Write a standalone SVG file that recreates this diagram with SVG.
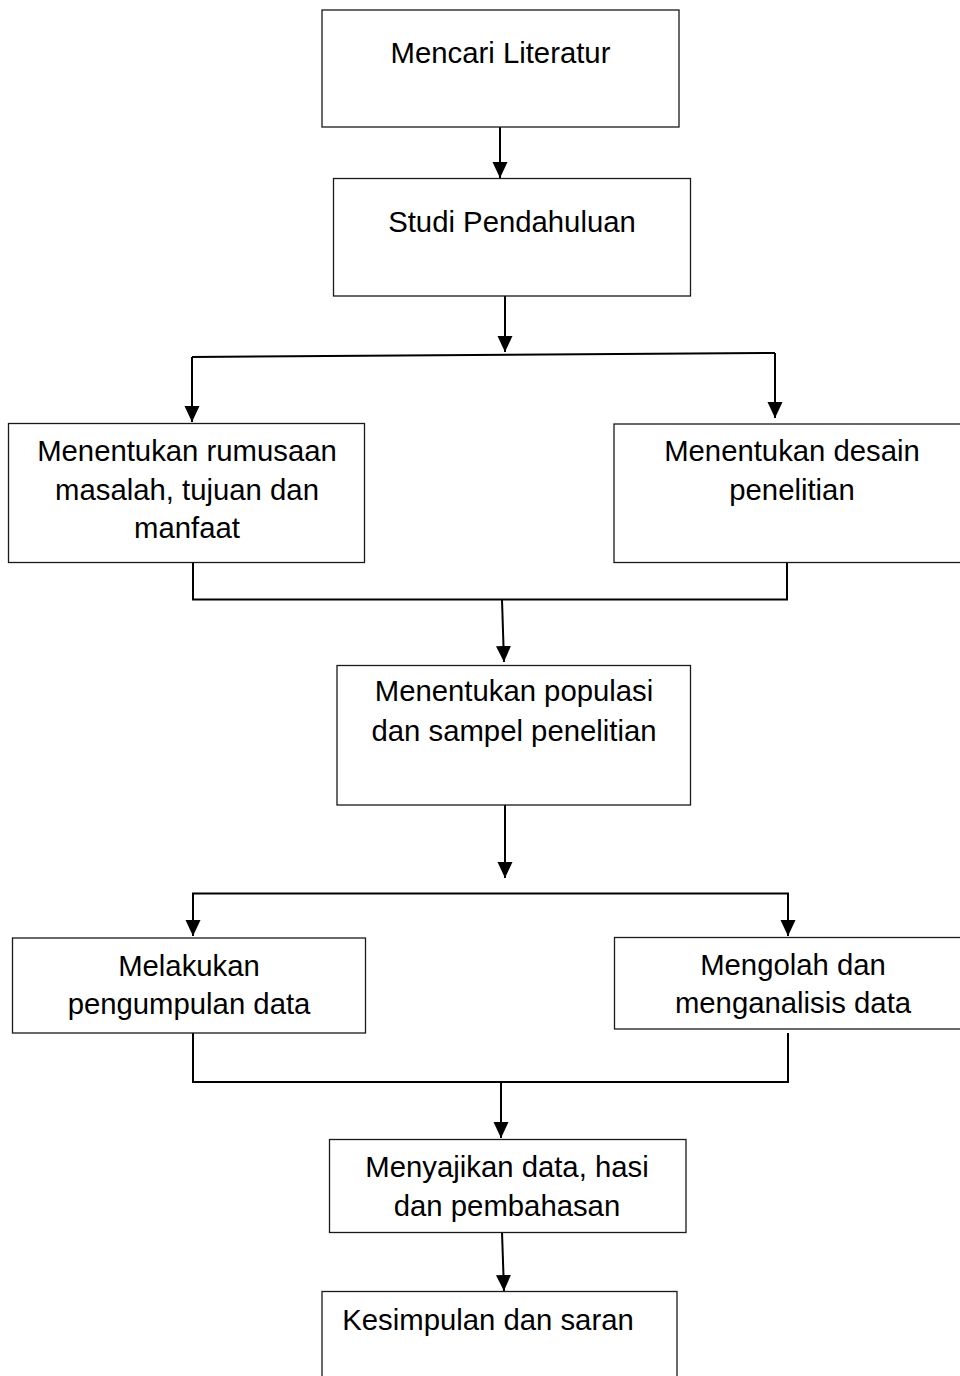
<svg xmlns="http://www.w3.org/2000/svg" width="960" height="1376" viewBox="0 0 960 1376">
<defs>
<marker id="ah" markerUnits="userSpaceOnUse" markerWidth="15" markerHeight="16" refX="16" refY="7.5" orient="auto">
<path d="M0,0 L16,7.5 L0,15 z" fill="#000"/>
</marker>
<style>
.box{fill:#fff;stroke:#1a1a1a;stroke-width:1.3}
.t{font-family:"Liberation Sans",Arial,sans-serif;font-size:29.3px;fill:#000;text-anchor:middle}
.c{fill:none;stroke:#000;stroke-width:2}
.a{fill:none;stroke:#000;stroke-width:2;marker-end:url(#ah)}
</style>
</defs>
<rect width="960" height="1376" fill="#fff"/>
<g id="connectors">
<line class="a" x1="500" y1="127" x2="500" y2="178"/>
<line class="a" x1="505" y1="296" x2="505" y2="352"/>
<line class="c" x1="192" y1="357" x2="775" y2="353"/>
<line class="a" x1="192" y1="357" x2="192" y2="422"/>
<line class="a" x1="775" y1="353" x2="775" y2="418"/>
<polyline class="c" points="193,562 193,599.5 787,599.5 787,562"/>
<line class="a" x1="502" y1="600" x2="504" y2="662"/>
<line class="a" x1="505" y1="805" x2="505" y2="878"/>
<polyline class="a" points="505,893.5 193,893.5 193,936"/>
<polyline class="a" points="505,893.5 788,893.5 788,936"/>
<polyline class="c" points="193,1033 193,1082 788,1082 788,1033"/>
<line class="a" x1="501" y1="1082" x2="501" y2="1138"/>
<line class="a" x1="502" y1="1232" x2="504" y2="1291"/>
</g>
<g id="n1">
<rect class="box" x="322" y="10" width="357" height="117"/>
<text class="t" x="500.5" y="63">Mencari Literatur</text>
</g>
<g id="n2">
<rect class="box" x="333.5" y="178.5" width="357" height="117.5"/>
<text class="t" x="512" y="232">Studi Pendahuluan</text>
</g>
<g id="n3">
<rect class="box" x="8.5" y="423.5" width="356" height="139"/>
<text class="t" x="187" y="461">Menentukan rumusaan</text>
<text class="t" x="187" y="500">masalah, tujuan dan</text>
<text class="t" x="187" y="538">manfaat</text>
</g>
<g id="n4">
<rect class="box" x="614" y="424" width="356" height="138.5"/>
<text class="t" x="792" y="461">Menentukan desain</text>
<text class="t" x="792" y="500">penelitian</text>
</g>
<g id="n5">
<rect class="box" x="337" y="665.5" width="353.5" height="139.5"/>
<text class="t" x="514" y="701">Menentukan populasi</text>
<text class="t" x="514" y="741">dan sampel penelitian</text>
</g>
<g id="n6">
<rect class="box" x="12.5" y="938" width="353" height="95"/>
<text class="t" x="189" y="976">Melakukan</text>
<text class="t" x="189" y="1014">pengumpulan data</text>
</g>
<g id="n7">
<rect class="box" x="614.5" y="937.5" width="356" height="91.5"/>
<text class="t" x="793" y="975">Mengolah dan</text>
<text class="t" x="793" y="1013">menganalisis data</text>
</g>
<g id="n8">
<rect class="box" x="329.5" y="1139.5" width="356.5" height="93"/>
<text class="t" x="507" y="1177">Menyajikan data, hasi</text>
<text class="t" x="507" y="1216">dan pembahasan</text>
</g>
<g id="n9">
<rect class="box" x="322" y="1291.5" width="355" height="100"/>
<text class="t" x="488" y="1330">Kesimpulan dan saran</text>
</g>
</svg>
